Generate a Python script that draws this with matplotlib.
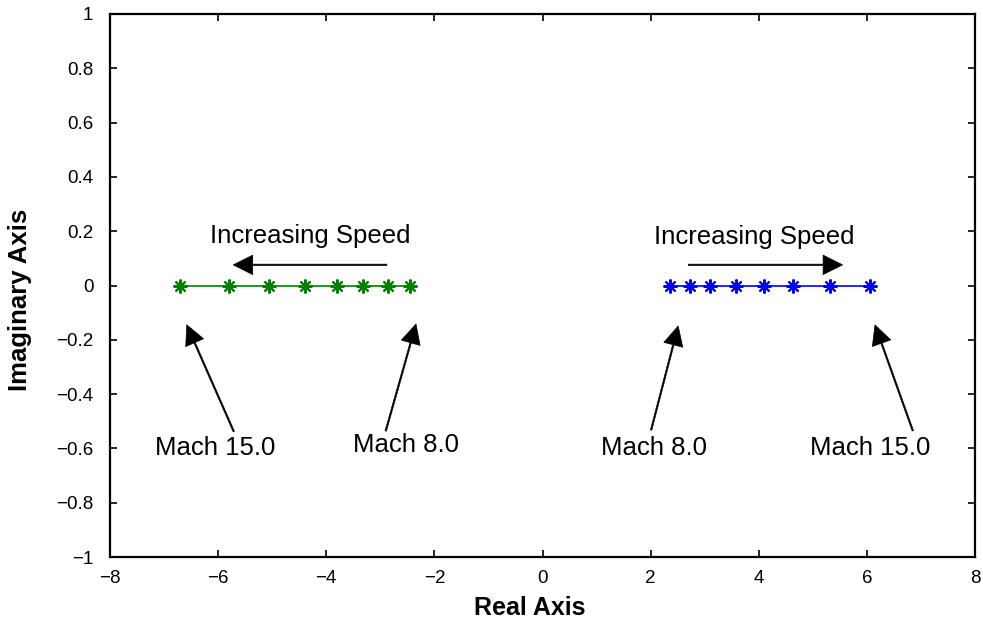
import matplotlib
matplotlib.use("Agg")
import matplotlib.pyplot as plt

plt.rcParams['font.family'] = ['Liberation Sans', 'DejaVu Sans']

# Pole locations from Mach 8.0 to Mach 15.0
mach = [8, 9, 10, 11, 12, 13, 14, 15]
stable_poles = [-2.46, -2.85, -3.32, -3.81, -4.40, -5.06, -5.80, -6.71]
unstable_poles = [2.36, 2.73, 3.10, 3.58, 4.10, 4.64, 5.31, 6.05]
imag_part = [0, 0, 0, 0, 0, 0, 0, 0]

x_ticks = [-8, -6, -4, -2, 0, 2, 4, 6, 8]
y_ticks = [-1, -0.8, -0.6, -0.4, -0.2, 0, 0.2, 0.4, 0.6, 0.8, 1]
y_tick_labels = ['\u22121', '\u22120.8', '\u22120.6', '\u22120.4', '\u22120.2', '0',
                 '0.2', '0.4', '0.6', '0.8', '1']
x_tick_labels = ['\u22128', '\u22126', '\u22124', '\u22122', '0', '2', '4', '6', '8']

fig = plt.figure(figsize=(9.83, 6.25), dpi=100)
ax = fig.add_axes([110 / 983, 1 - 557 / 625, 865 / 983, 543 / 625])

asterisk = (8, 2, 0)
ax.plot(stable_poles, imag_part, color=(0, 0.5, 0), lw=1.2,
        marker=asterisk, ms=10, mew=1.5)
ax.plot(unstable_poles, imag_part, color=(0, 0, 1), lw=1.2,
        marker=asterisk, ms=10, mew=1.5)

ax.set_xlim(-8, 8)
ax.set_ylim(-1, 1)
ax.set_xticks(x_ticks)
ax.set_xticklabels(x_tick_labels)
ax.set_yticks(y_ticks)
ax.set_yticklabels(y_tick_labels)
ax.tick_params(direction='in', length=5, width=1.2, labelsize=13.5,
               top=True, right=True)
ax.tick_params(axis='x', pad=9.5)
ax.tick_params(axis='y', pad=12)
for s in ax.spines.values():
    s.set_linewidth(1.6)

fig.text(530 / 983, 1 - 615 / 625, 'Real Axis', fontsize=18,
         fontweight='bold', ha='center', va='baseline')
fig.text(20 / 983, 1 - 300 / 625, 'Imaginary Axis', fontsize=18.5,
         fontweight='bold', ha='center', va='center', rotation=90)

arrow = dict(facecolor='black', edgecolor='black', width=1.0, lw=0.5,
             headwidth=14, headlength=14, shrink=0)
txt = dict(fontsize=18.5, ha='center', va='baseline')

# Direction of motion with speed
ax.annotate('', xy=(-5.72, 0.076), xytext=(-2.88, 0.076), arrowprops=arrow)
ax.text(-4.30, 0.155, 'Increasing Speed', **txt)
ax.annotate('', xy=(5.55, 0.076), xytext=(2.70, 0.076), arrowprops=arrow)
ax.text(3.92, 0.152, 'Increasing Speed', **txt)

# End-point labels
ax.annotate('', xy=(-6.58, -0.145), xytext=(-5.71, -0.538), arrowprops=arrow)
ax.text(-6.06, -0.624, 'Mach 15.0', **txt)
ax.annotate('', xy=(-2.34, -0.142), xytext=(-2.90, -0.536), arrowprops=arrow)
ax.text(-2.53, -0.612, 'Mach 8.0', **txt)
ax.annotate('', xy=(2.51, -0.149), xytext=(2.01, -0.532), arrowprops=arrow)
ax.text(2.06, -0.624, 'Mach 8.0', **txt)
ax.annotate('', xy=(6.15, -0.145), xytext=(6.85, -0.535), arrowprops=arrow)
ax.text(6.07, -0.624, 'Mach 15.0', **txt)

fig.savefig('out.png', dpi=100)
